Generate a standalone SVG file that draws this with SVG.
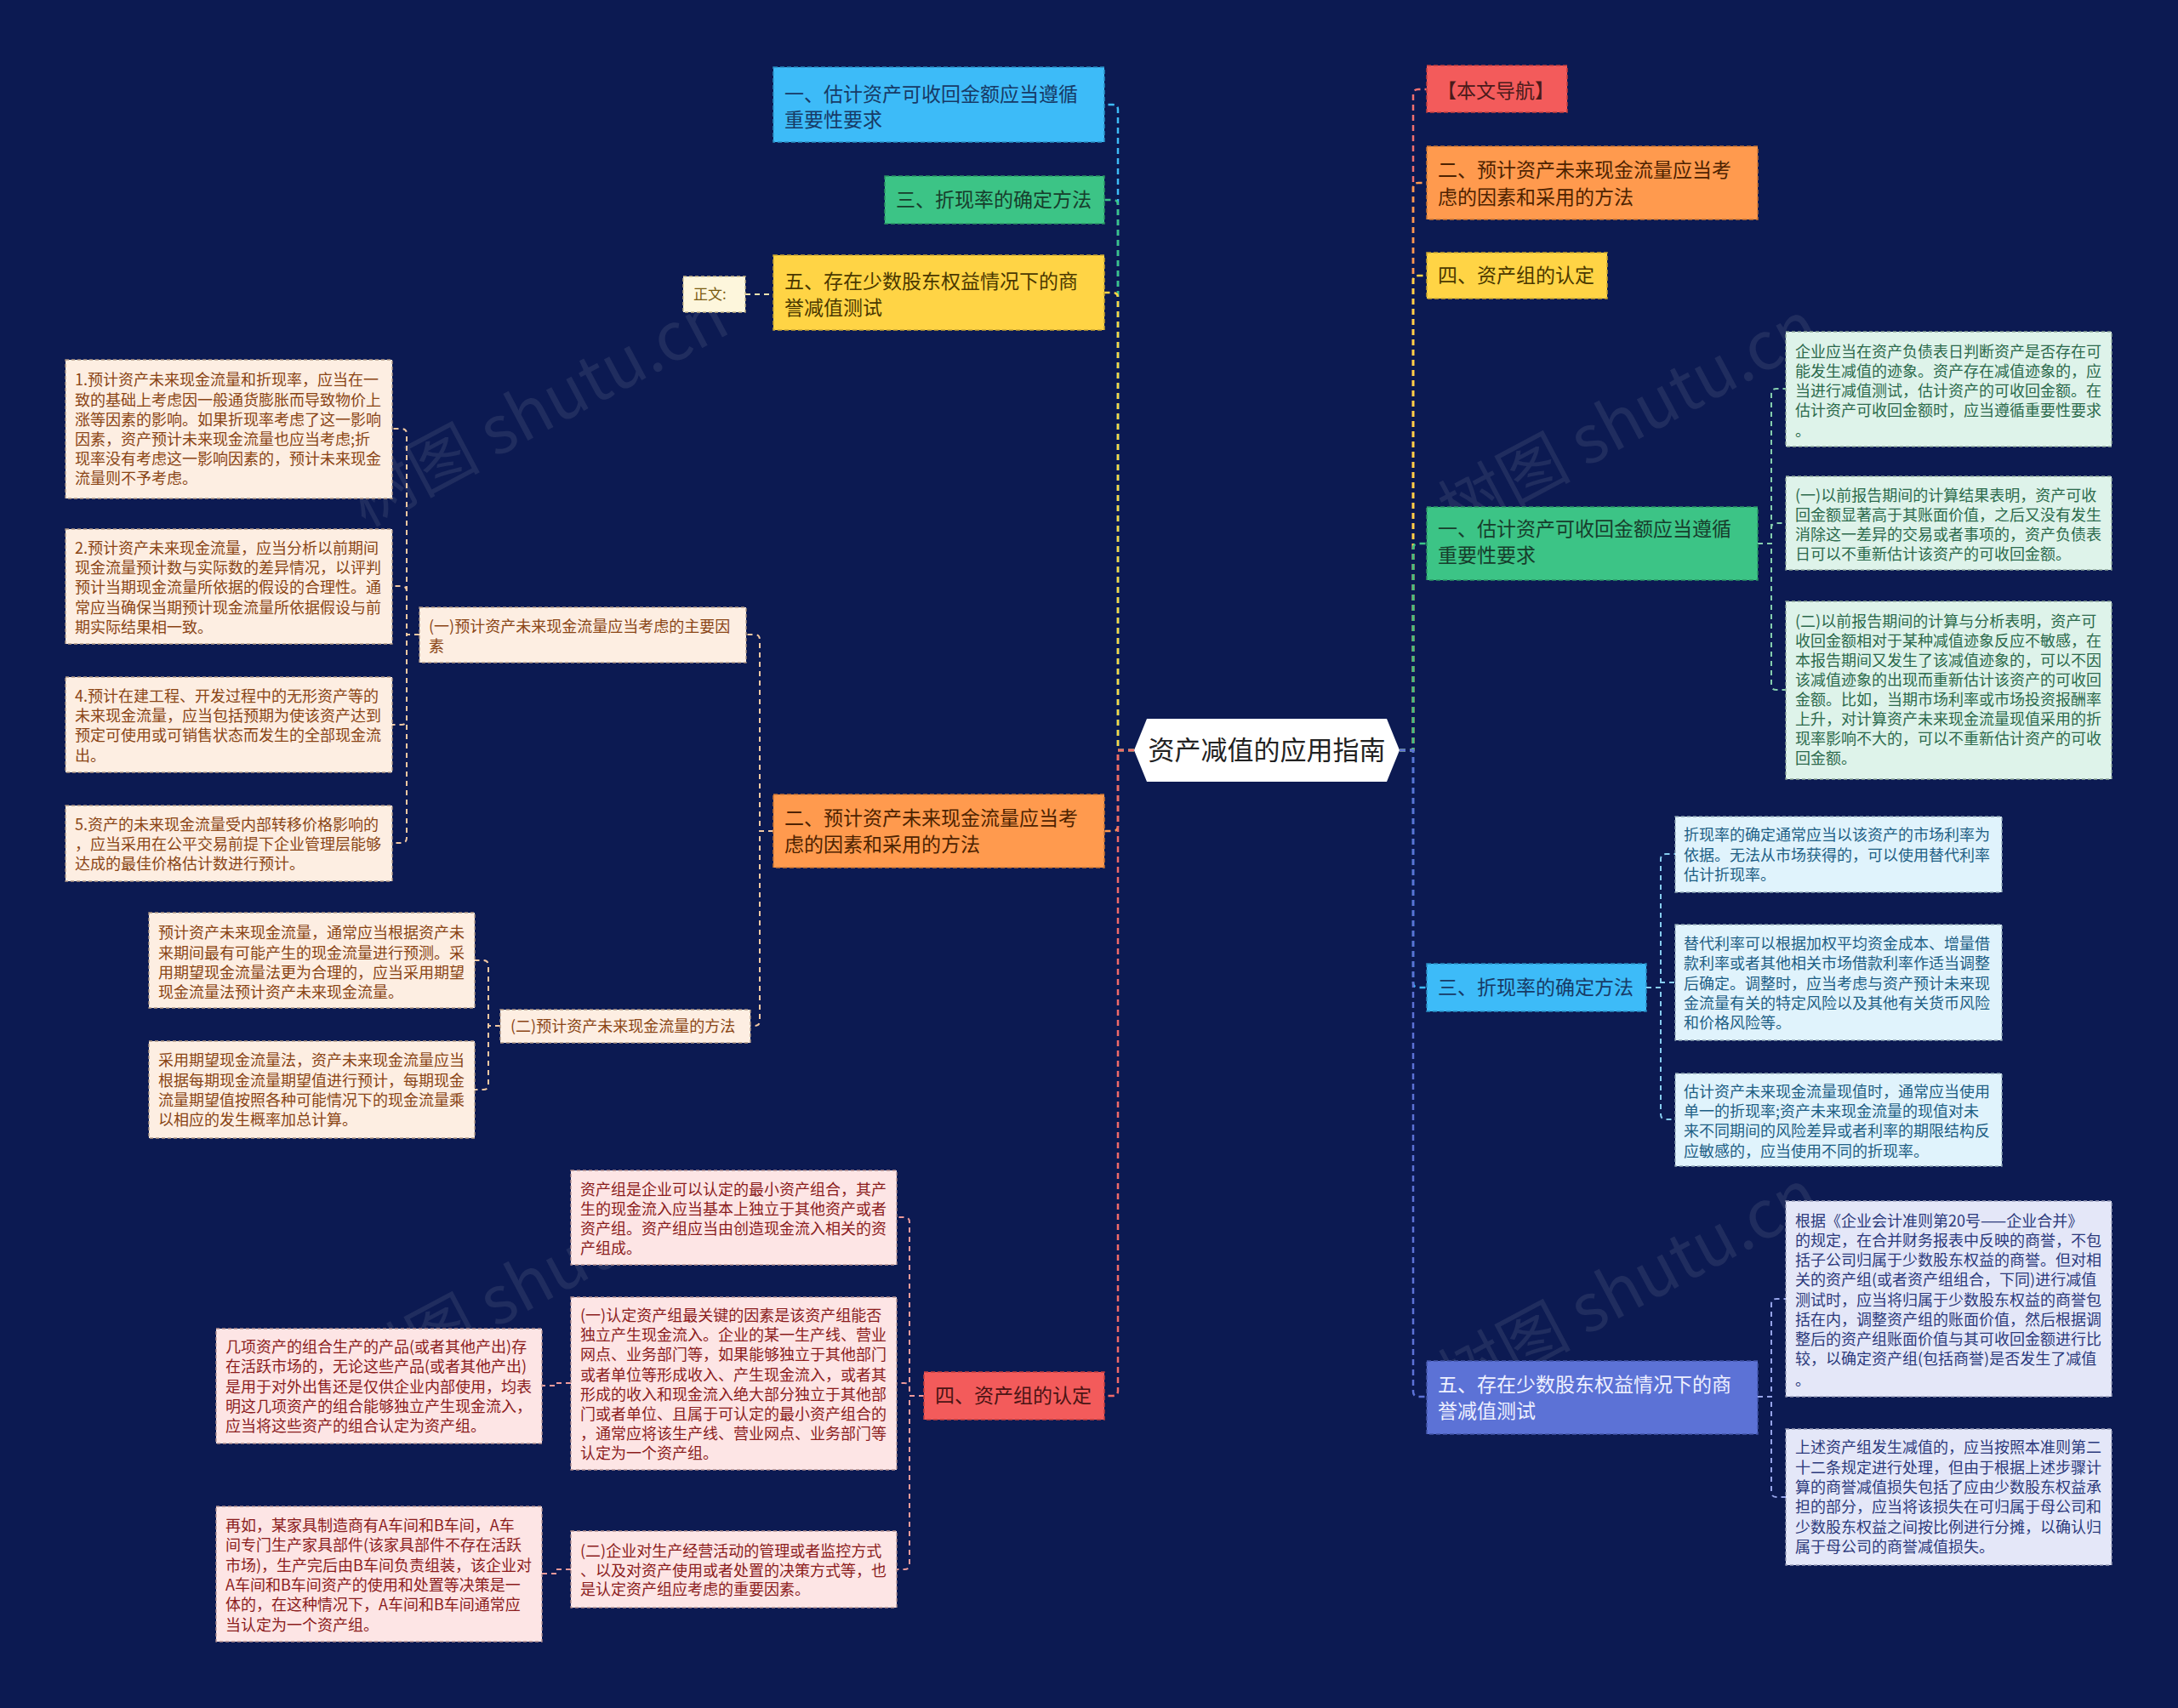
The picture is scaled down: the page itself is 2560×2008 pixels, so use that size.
<svg xmlns="http://www.w3.org/2000/svg" width="2560" height="2008" viewBox="0 0 2560 2008">
<style>
text{font-family:"Noto Sans CJK SC","Liberation Sans",sans-serif}
.wm{font-size:78px;fill:#c8c8c8;fill-opacity:0.11}
.bt{font-size:23px}
.lt{font-size:18px}
.c{fill:none;stroke-width:2.5;stroke-dasharray:7 5}
.s{fill:none;stroke-width:2;stroke-dasharray:6 5}
.nb{stroke-width:1.5;stroke-dasharray:5 3}
.lf{stroke-width:1.3;stroke-dasharray:4 3}
.o{fill:#fdeee2;stroke:#b39a86}
.ot{fill:#8a4515}
.r{fill:#fde5e5;stroke:#b39090}
.rt{fill:#8b1c1c}
.g{fill:#def3ea;stroke:#8fa89a}
.gt{fill:#2c6a4c}
.b{fill:#e0f3fc;stroke:#8fa6b4}
.btx{fill:#1e5f85}
.p{fill:#e4e7f8;stroke:#9a9fb8}
.pt{fill:#2c3a7c}
</style>
<rect width="2560" height="2008" fill="#0c1a52"/>

<g id="watermarks">
<text class="wm" x="645" y="505" text-anchor="middle" transform="rotate(-28 645 505)">树图 shutu.cn</text>
<text class="wm" x="1927" y="516" text-anchor="middle" transform="rotate(-28 1927 516)">树图 shutu.cn</text>
<text class="wm" x="645" y="1528" text-anchor="middle" transform="rotate(-28 645 1528)">树图 shutu.cn</text>
<text class="wm" x="1927" y="1537" text-anchor="middle" transform="rotate(-28 1927 1537)">树图 shutu.cn</text>
</g>

<g id="connectors">
<path class="c" stroke="#3dbbf8" d="M1333,882 H1314 V129 Q1314,123 1308,123 H1298"/>
<path class="c" stroke="#3cc486" d="M1333,882 H1314 V241 Q1314,235 1308,235 H1298"/>
<path class="c" stroke="#ffd445" d="M1333,882 H1314 V350 Q1314,344 1308,344 H1298"/>
<path class="c" stroke="#ff9a4e" d="M1333,882 H1314 V971 Q1314,977 1308,977 H1298"/>
<path class="c" stroke="#f06a6a" d="M1333,882 H1314 V1635 Q1314,1641 1308,1641 H1298"/>

<path class="c" stroke="#f07070" d="M1645,882 H1661 V111 Q1661,105 1667,105 H1677"/>
<path class="c" stroke="#ff9a4e" d="M1645,882 H1661 V221 Q1661,215 1667,215 H1677"/>
<path class="c" stroke="#ffd445" d="M1645,882 H1661 V330 Q1661,324 1667,324 H1677"/>
<path class="c" stroke="#3cc486" d="M1645,882 H1661 V645 Q1661,639 1667,639 H1677"/>
<path class="c" stroke="#3dbbf8" d="M1645,882 H1661 V1155 Q1661,1161 1667,1161 H1677"/>
<path class="c" stroke="#5c72d6" d="M1645,882 H1661 V1636 Q1661,1642 1667,1642 H1677"/>

<path class="s" stroke="#f3e3b0" d="M876,346 H909"/>

<path class="s" stroke="#f2c8a2" d="M909,977 H893 V752 Q893,746 887,746 H877"/>
<path class="s" stroke="#f2c8a2" d="M909,977 H893 V1200 Q893,1206 887,1206 H882"/>
<path class="s" stroke="#f2c8a2" d="M493,746 H478 V510 Q478,504 472,504 H461"/>
<path class="s" stroke="#f2c8a2" d="M493,746 H478 V695 Q478,689 472,689 H461"/>
<path class="s" stroke="#f2c8a2" d="M493,746 H478 V846 Q478,852 472,852 H461"/>
<path class="s" stroke="#f2c8a2" d="M493,746 H478 V985 Q478,991 472,991 H461"/>
<path class="s" stroke="#f2c8a2" d="M588,1206 H574 V1135 Q574,1129 568,1129 H558"/>
<path class="s" stroke="#f2c8a2" d="M588,1206 H574 V1275 Q574,1281 568,1281 H558"/>

<path class="s" stroke="#ee9a9a" d="M1086,1641 H1069 V1437 Q1069,1431 1063,1431 H1054"/>
<path class="s" stroke="#ee9a9a" d="M1086,1641 H1069 V1632 Q1069,1626 1063,1626 H1054"/>
<path class="s" stroke="#ee9a9a" d="M1086,1641 H1069 V1839 Q1069,1845 1063,1845 H1054"/>
<path class="s" stroke="#ee9a9a" d="M671,1626 H654 V1629 H637"/>
<path class="s" stroke="#ee9a9a" d="M671,1845 H654 V1850 H637"/>

<path class="s" stroke="#86cfae" d="M2066,639 H2082 V463 Q2082,457 2088,457 H2099"/>
<path class="s" stroke="#86cfae" d="M2066,639 H2082 V621 Q2082,615 2088,615 H2099"/>
<path class="s" stroke="#86cfae" d="M2066,639 H2082 V805 Q2082,811 2088,811 H2099"/>

<path class="s" stroke="#86cdf0" d="M1935,1161 H1952 V1010 Q1952,1004 1958,1004 H1969"/>
<path class="s" stroke="#86cdf0" d="M1935,1161 H1952 V1155 H1969"/>
<path class="s" stroke="#86cdf0" d="M1935,1161 H1952 V1310 Q1952,1316 1958,1316 H1969"/>

<path class="s" stroke="#97a5ea" d="M2066,1642 H2082 V1533 Q2082,1527 2088,1527 H2099"/>
<path class="s" stroke="#97a5ea" d="M2066,1642 H2082 V1754 Q2082,1760 2088,1760 H2099"/>
</g>

<g id="center">
<polygon points="1333,882 1348,845 1630,845 1645,882 1630,919 1348,919" fill="#ffffff"/>
<text x="1489" y="893" text-anchor="middle" font-size="31" fill="#222222">资产减值的应用指南</text>
</g>

<g id="left-1">
<rect class="nb" x="909" y="79" width="389" height="88" fill="#3dbbf8" stroke="#2a8fc4"/>
<text class="bt" fill="#173a66"><tspan x="922" y="119">一、估计资产可收回金额应当遵循</tspan><tspan x="922" y="149">重要性要求</tspan></text>
</g>
<g id="left-3">
<rect class="nb" x="1040" y="207" width="258" height="56" fill="#3cc486" stroke="#2a9464"/>
<text class="bt" fill="#173d2c" x="1053" y="243">三、折现率的确定方法</text>
</g>
<g id="left-5">
<rect class="nb" x="909" y="300" width="389" height="88" fill="#ffd445" stroke="#c9a530"/>
<text class="bt" fill="#4a3800"><tspan x="922" y="339">五、存在少数股东权益情况下的商</tspan><tspan x="922" y="370">誉减值测试</tspan></text>
</g>
<g id="zhengwen">
<rect class="lf" x="803" y="325" width="73" height="42" fill="#fdf6dc" stroke="#c9b98a"/>
<text x="815" y="352" font-size="17" fill="#7a5a10">正文:</text>
</g>
<g id="left-2">
<rect class="nb" x="909" y="934" width="389" height="86" fill="#ff9a4e" stroke="#c97433"/>
<text class="bt" fill="#4d2200"><tspan x="922" y="970">二、预计资产未来现金流量应当考</tspan><tspan x="922" y="1001">虑的因素和采用的方法</tspan></text>
</g>
<g id="left-4">
<rect class="nb" x="1086" y="1613" width="212" height="56" fill="#f35b5b" stroke="#c23f3f"/>
<text class="bt" fill="#4a1414" x="1099" y="1649">四、资产组的认定</text>
</g>

<g id="l-a">
<rect class="lf o" x="493" y="714" width="384" height="65"/>
<text class="lt ot"><tspan x="504" y="743">(一)预计资产未来现金流量应当考虑的主要因</tspan><tspan x="504" y="766">素</tspan></text>
</g>
<g id="l-b">
<rect class="lf o" x="588" y="1187" width="294" height="39"/>
<text class="lt ot" x="600" y="1212.5">(二)预计资产未来现金流量的方法</text>
</g>
<g id="l-1">
<rect class="lf o" x="77" y="423" width="384" height="163"/>
<text class="lt ot"><tspan x="88" y="453">1.预计资产未来现金流量和折现率，应当在一</tspan><tspan x="88" y="476.5">致的基础上考虑因一般通货膨胀而导致物价上</tspan><tspan x="88" y="499.5">涨等因素的影响。如果折现率考虑了这一影响</tspan><tspan x="88" y="522.5">因素，资产预计未来现金流量也应当考虑;折</tspan><tspan x="88" y="545.5">现率没有考虑这一影响因素的，预计未来现金</tspan><tspan x="88" y="568.5">流量则不予考虑。</tspan></text>
</g>
<g id="l-2">
<rect class="lf o" x="77" y="622" width="384" height="135"/>
<text class="lt ot"><tspan x="88" y="650.5">2.预计资产未来现金流量，应当分析以前期间</tspan><tspan x="88" y="674">现金流量预计数与实际数的差异情况，以评判</tspan><tspan x="88" y="697">预计当期现金流量所依据的假设的合理性。通</tspan><tspan x="88" y="720.5">常应当确保当期预计现金流量所依据假设与前</tspan><tspan x="88" y="744">期实际结果相一致。</tspan></text>
</g>
<g id="l-4">
<rect class="lf o" x="77" y="796" width="384" height="112"/>
<text class="lt ot"><tspan x="88" y="824.5">4.预计在建工程、开发过程中的无形资产等的</tspan><tspan x="88" y="848">未来现金流量，应当包括预期为使该资产达到</tspan><tspan x="88" y="871">预定可使用或可销售状态而发生的全部现金流</tspan><tspan x="88" y="894.5">出。</tspan></text>
</g>
<g id="l-5">
<rect class="lf o" x="77" y="947" width="384" height="89"/>
<text class="lt ot"><tspan x="88" y="975.5">5.资产的未来现金流量受内部转移价格影响的</tspan><tspan x="88" y="999">，应当采用在公平交易前提下企业管理层能够</tspan><tspan x="88" y="1022">达成的最佳价格估计数进行预计。</tspan></text>
</g>
<g id="m-1">
<rect class="lf o" x="175" y="1073" width="383" height="112"/>
<text class="lt ot"><tspan x="186" y="1103">预计资产未来现金流量，通常应当根据资产未</tspan><tspan x="186" y="1126.5">来期间最有可能产生的现金流量进行预测。采</tspan><tspan x="186" y="1149.5">用期望现金流量法更为合理的，应当采用期望</tspan><tspan x="186" y="1173">现金流量法预计资产未来现金流量。</tspan></text>
</g>
<g id="m-2">
<rect class="lf o" x="175" y="1224" width="383" height="114"/>
<text class="lt ot"><tspan x="186" y="1253">采用期望现金流量法，资产未来现金流量应当</tspan><tspan x="186" y="1276.5">根据每期现金流量期望值进行预计，每期现金</tspan><tspan x="186" y="1299.5">流量期望值按照各种可能情况下的现金流量乘</tspan><tspan x="186" y="1323">以相应的发生概率加总计算。</tspan></text>
</g>

<g id="p-1">
<rect class="lf r" x="671" y="1376" width="383" height="111"/>
<text class="lt rt"><tspan x="682" y="1404.5">资产组是企业可以认定的最小资产组合，其产</tspan><tspan x="682" y="1427.5">生的现金流入应当基本上独立于其他资产或者</tspan><tspan x="682" y="1450.5">资产组。资产组应当由创造现金流入相关的资</tspan><tspan x="682" y="1473.5">产组成。</tspan></text>
</g>
<g id="p-2">
<rect class="lf r" x="671" y="1525" width="383" height="203"/>
<text class="lt rt"><tspan x="682" y="1553">(一)认定资产组最关键的因素是该资产组能否</tspan><tspan x="682" y="1576">独立产生现金流入。企业的某一生产线、营业</tspan><tspan x="682" y="1599">网点、业务部门等，如果能够独立于其他部门</tspan><tspan x="682" y="1622.5">或者单位等形成收入、产生现金流入，或者其</tspan><tspan x="682" y="1645.5">形成的收入和现金流入绝大部分独立于其他部</tspan><tspan x="682" y="1669">门或者单位、且属于可认定的最小资产组合的</tspan><tspan x="682" y="1692">，通常应将该生产线、营业网点、业务部门等</tspan><tspan x="682" y="1715">认定为一个资产组。</tspan></text>
</g>
<g id="p-3">
<rect class="lf r" x="671" y="1800" width="383" height="90"/>
<text class="lt rt"><tspan x="682" y="1829.5">(二)企业对生产经营活动的管理或者监控方式</tspan><tspan x="682" y="1852.5">、以及对资产使用或者处置的决策方式等，也</tspan><tspan x="682" y="1874.5">是认定资产组应考虑的重要因素。</tspan></text>
</g>
<g id="q-1">
<rect class="lf r" x="254" y="1562" width="383" height="135"/>
<text class="lt rt"><tspan x="265" y="1589.5">几项资产的组合生产的产品(或者其他产出)存</tspan><tspan x="265" y="1613">在活跃市场的，无论这些产品(或者其他产出)</tspan><tspan x="265" y="1636.5">是用于对外出售还是仅供企业内部使用，均表</tspan><tspan x="265" y="1659.5">明这几项资产的组合能够独立产生现金流入，</tspan><tspan x="265" y="1683">应当将这些资产的组合认定为资产组。</tspan></text>
</g>
<g id="q-2">
<rect class="lf r" x="254" y="1771" width="383" height="159"/>
<text class="lt rt"><tspan x="265" y="1799.5">再如，某家具制造商有A车间和B车间，A车</tspan><tspan x="265" y="1823">间专门生产家具部件(该家具部件不存在活跃</tspan><tspan x="265" y="1846.5">市场)，生产完后由B车间负责组装，该企业对</tspan><tspan x="265" y="1869.5">A车间和B车间资产的使用和处置等决策是一</tspan><tspan x="265" y="1893">体的，在这种情况下，A车间和B车间通常应</tspan><tspan x="265" y="1916.5">当认定为一个资产组。</tspan></text>
</g>

<g id="right-nav">
<rect class="nb" x="1677" y="77" width="165" height="55" fill="#f35b5b" stroke="#c23f3f"/>
<text class="bt" fill="#4a1a1a" x="1689" y="115">【本文导航】</text>
</g>
<g id="right-2">
<rect class="nb" x="1677" y="172" width="389" height="86" fill="#ff9a4e" stroke="#c97433"/>
<text class="bt" fill="#4d2200"><tspan x="1690" y="208">二、预计资产未来现金流量应当考</tspan><tspan x="1690" y="240">虑的因素和采用的方法</tspan></text>
</g>
<g id="right-4">
<rect class="nb" x="1677" y="297" width="212" height="54" fill="#ffd445" stroke="#c9a530"/>
<text class="bt" fill="#4a3800" x="1690" y="332">四、资产组的认定</text>
</g>
<g id="right-1">
<rect class="nb" x="1677" y="596" width="389" height="86" fill="#3cc486" stroke="#2a9464"/>
<text class="bt" fill="#173d2c"><tspan x="1690" y="630">一、估计资产可收回金额应当遵循</tspan><tspan x="1690" y="661">重要性要求</tspan></text>
</g>
<g id="right-3">
<rect class="nb" x="1677" y="1133" width="258" height="56" fill="#3dbbf8" stroke="#2a8fc4"/>
<text class="bt" fill="#173a66" x="1690" y="1169">三、折现率的确定方法</text>
</g>
<g id="right-5">
<rect class="nb" x="1677" y="1600" width="389" height="86" fill="#5c72d6" stroke="#4356a8"/>
<text class="bt" fill="#eef0ff"><tspan x="1690" y="1636">五、存在少数股东权益情况下的商</tspan><tspan x="1690" y="1667">誉减值测试</tspan></text>
</g>

<g id="r-1">
<rect class="lf g" x="2099" y="390" width="383" height="135"/>
<text class="lt gt"><tspan x="2110" y="419.5">企业应当在资产负债表日判断资产是否存在可</tspan><tspan x="2110" y="442.5">能发生减值的迹象。资产存在减值迹象的，应</tspan><tspan x="2110" y="465.5">当进行减值测试，估计资产的可收回金额。在</tspan><tspan x="2110" y="488.5">估计资产可收回金额时，应当遵循重要性要求</tspan><tspan x="2110" y="512.5">。</tspan></text>
</g>
<g id="r-2">
<rect class="lf g" x="2099" y="560" width="383" height="110"/>
<text class="lt gt"><tspan x="2110" y="589">(一)以前报告期间的计算结果表明，资产可收</tspan><tspan x="2110" y="611.5">回金额显著高于其账面价值，之后又没有发生</tspan><tspan x="2110" y="635">消除这一差异的交易或者事项的，资产负债表</tspan><tspan x="2110" y="658">日可以不重新估计该资产的可收回金额。</tspan></text>
</g>
<g id="r-3">
<rect class="lf g" x="2099" y="707" width="383" height="209"/>
<text class="lt gt"><tspan x="2110" y="736.5">(二)以前报告期间的计算与分析表明，资产可</tspan><tspan x="2110" y="759.5">收回金额相对于某种减值迹象反应不敏感，在</tspan><tspan x="2110" y="782.5">本报告期间又发生了该减值迹象的，可以不因</tspan><tspan x="2110" y="805.5">该减值迹象的出现而重新估计该资产的可收回</tspan><tspan x="2110" y="828.5">金额。比如，当期市场利率或市场投资报酬率</tspan><tspan x="2110" y="851.5">上升，对计算资产未来现金流量现值采用的折</tspan><tspan x="2110" y="874.5">现率影响不大的，可以不重新估计资产的可收</tspan><tspan x="2110" y="897.5">回金额。</tspan></text>
</g>

<g id="s-1">
<rect class="lf b" x="1969" y="960" width="384" height="89"/>
<text class="lt btx"><tspan x="1979" y="988">折现率的确定通常应当以该资产的市场利率为</tspan><tspan x="1979" y="1011.5">依据。无法从市场获得的，可以使用替代利率</tspan><tspan x="1979" y="1035">估计折现率。</tspan></text>
</g>
<g id="s-2">
<rect class="lf b" x="1969" y="1087" width="384" height="136"/>
<text class="lt btx"><tspan x="1979" y="1116">替代利率可以根据加权平均资金成本、增量借</tspan><tspan x="1979" y="1139">款利率或者其他相关市场借款利率作适当调整</tspan><tspan x="1979" y="1162.5">后确定。调整时，应当考虑与资产预计未来现</tspan><tspan x="1979" y="1186">金流量有关的特定风险以及其他有关货币风险</tspan><tspan x="1979" y="1209">和价格风险等。</tspan></text>
</g>
<g id="s-3">
<rect class="lf b" x="1969" y="1262" width="384" height="109"/>
<text class="lt btx"><tspan x="1979" y="1290">估计资产未来现金流量现值时，通常应当使用</tspan><tspan x="1979" y="1313">单一的折现率;资产未来现金流量的现值对未</tspan><tspan x="1979" y="1336">来不同期间的风险差异或者利率的期限结构反</tspan><tspan x="1979" y="1359.5">应敏感的，应当使用不同的折现率。</tspan></text>
</g>

<g id="t-1">
<rect class="lf p" x="2099" y="1412" width="383" height="230"/>
<text class="lt pt"><tspan x="2110" y="1441.5">根据《企业会计准则第20号——企业合并》</tspan><tspan x="2110" y="1464.5">的规定，在合并财务报表中反映的商誉，不包</tspan><tspan x="2110" y="1488">括子公司归属于少数股东权益的商誉。但对相</tspan><tspan x="2110" y="1511">关的资产组(或者资产组组合，下同)进行减值</tspan><tspan x="2110" y="1534.5">测试时，应当将归属于少数股东权益的商誉包</tspan><tspan x="2110" y="1557.5">括在内，调整资产组的账面价值，然后根据调</tspan><tspan x="2110" y="1580.5">整后的资产组账面价值与其可收回金额进行比</tspan><tspan x="2110" y="1604">较，以确定资产组(包括商誉)是否发生了减值</tspan><tspan x="2110" y="1629">。</tspan></text>
</g>
<g id="t-2">
<rect class="lf p" x="2099" y="1680" width="383" height="160"/>
<text class="lt pt"><tspan x="2110" y="1708">上述资产组发生减值的，应当按照本准则第二</tspan><tspan x="2110" y="1731.5">十二条规定进行处理，但由于根据上述步骤计</tspan><tspan x="2110" y="1755">算的商誉减值损失包括了应由少数股东权益承</tspan><tspan x="2110" y="1778">担的部分，应当将该损失在可归属于母公司和</tspan><tspan x="2110" y="1801.5">少数股东权益之间按比例进行分摊，以确认归</tspan><tspan x="2110" y="1825">属于母公司的商誉减值损失。</tspan></text>
</g>
</svg>
